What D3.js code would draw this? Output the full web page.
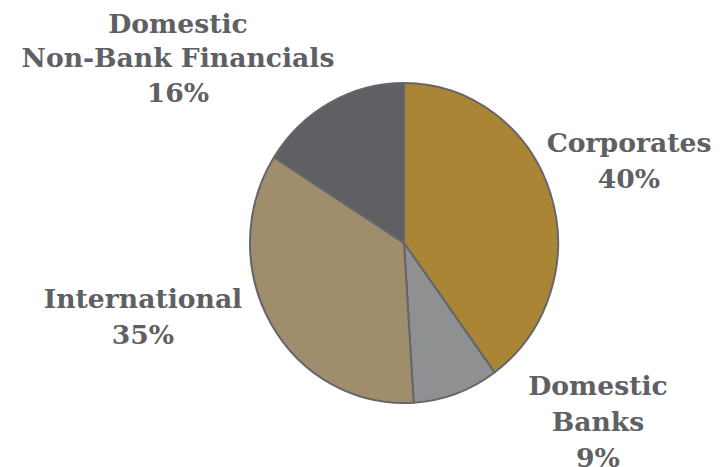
<!DOCTYPE html>
<html>
<head>
<meta charset="utf-8">
<script src="https://cdn.jsdelivr.net/npm/d3@7"></script>
<style>
  html, body { margin: 0; padding: 0; background: #fff; }
  svg { display: block; }
</style>
</head>
<body>
<svg id="chart" width="721" height="467"></svg>
<script>
// Holdings by sector, share of total (%)
const categories = ["Corporates", "Domestic Banks", "International", "Domestic Non-Bank Financials"];
const shares = [40, 9, 35, 16];
const labelLines = [
  ["Corporates"],
  ["Domestic", "Banks"],
  ["International"],
  ["Domestic", "Non-Bank Financials"]
];
const colors = ["#a98535", "#8f9092", "#9e8e6c", "#5f6064"];

// Layout
const cx = 404, cy = 243, radius = 160, xStretch = 154 / 160;
const labelAnchors = [
  { x: 629, y: 152 },
  { x: 598, y: 395 },
  { x: 143, y: 308 },
  { x: 178, y: 33 }
];
const lineGaps = [36.5, 35.8, 35.7, 34.3];
const textColor = "#5f6064";
const fontFamily = "'DejaVu Serif', serif";
const fontSize = 26;

const svg = d3.select("#chart");

const pie = d3.pie().sort(null).value(d => d);
const arc = d3.arc().innerRadius(0).outerRadius(radius);
const arcs = pie(shares);

const g = svg.append("g")
  .attr("transform", `translate(${cx},${cy}) scale(${xStretch},1)`);

g.selectAll("path")
  .data(arcs)
  .join("path")
  .attr("d", arc)
  .attr("fill", (d, i) => colors[i])
  .attr("stroke", "#66666a")
  .attr("stroke-width", 2)
  .attr("vector-effect", "non-scaling-stroke")
  .attr("stroke-linejoin", "round");

// Condense the glyphs horizontally so the widest line spans 313px
const probe = svg.append("text")
  .attr("font-family", fontFamily).attr("font-weight", "bold")
  .attr("font-size", fontSize).text("Non-Bank Financials");
const probeW = probe.node().getComputedTextLength();
probe.remove();
const sx = 313 / probeW;

const labels = svg.append("g")
  .attr("font-family", fontFamily)
  .attr("font-weight", "bold")
  .attr("font-size", fontSize)
  .attr("fill", textColor)
  .attr("text-anchor", "middle");

arcs.forEach((a, i) => {
  const lines = labelLines[i].concat([d3.format(".0f")(a.data) + "%"]);
  const t = labels.append("text")
    .attr("transform", `translate(${labelAnchors[i].x},${labelAnchors[i].y}) scale(${sx},1)`);
  lines.forEach((ln, j) => {
    t.append("tspan")
      .attr("x", 0)
      .attr("dy", j === 0 ? 0 : lineGaps[i])
      .text(ln);
  });
});
</script>
</body>
</html>
